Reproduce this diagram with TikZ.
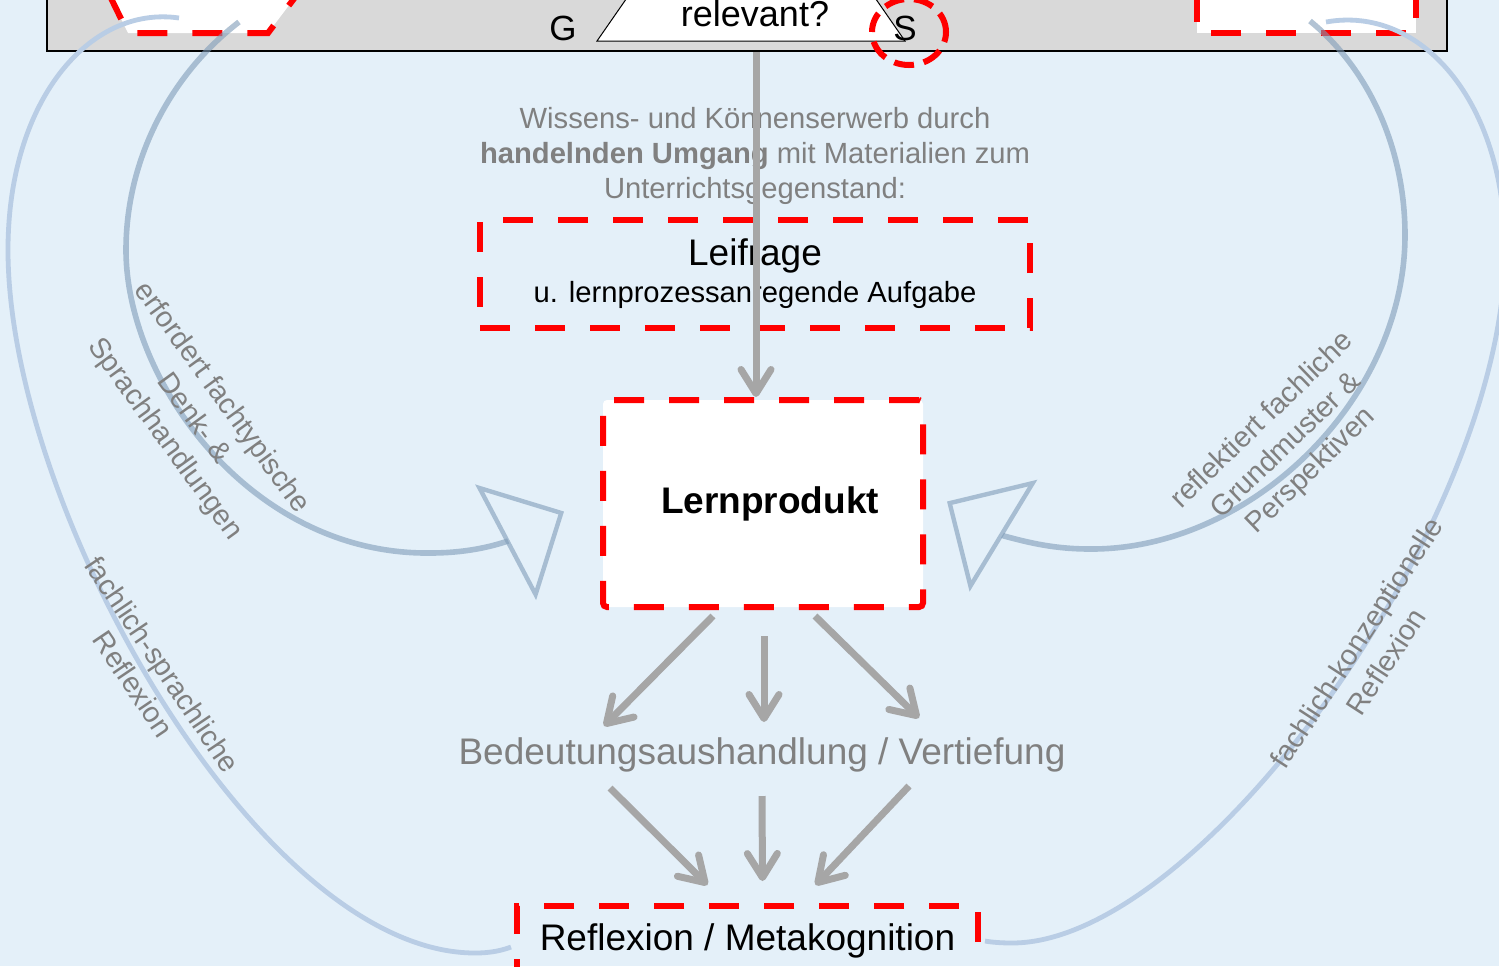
\documentclass[tikz,border=0pt]{standalone}
\usepackage{fontspec}
\setmainfont{Liberation Sans}
\usetikzlibrary{arrows.meta,calc,positioning}
\definecolor{paneblue}{HTML}{E4F0F9}
\definecolor{bargray}{HTML}{D9D9D9}
\definecolor{flowgray}{HTML}{A6A6A6}
\definecolor{notegray}{HTML}{808080}
\definecolor{loopblue}{HTML}{B9CDE5}
\definecolor{loopdark}{HTML}{7F9CB8}

\begin{document}
\begin{tikzpicture}[
    x=0.5pt, y=-0.5pt,
    redbox/.style={draw=red, line width=3pt, dash pattern=on 15pt off 12.5pt},
    flow/.style={draw=flowgray, line width=3.5pt, -{Straight Barb[length=12pt, width=15pt, round]}},
    inloop/.style={draw=loopdark, draw opacity=0.6, line width=2.8pt,
      -{Triangle[open, length=33pt, width=65pt, line width=2.2pt]}},
    outloop/.style={draw=loopblue, line width=2.4pt},
    midtext/.style={text=notegray, align=center},
    sidelbl/.style={text=notegray, align=center, font=\fontsize{14.4}{17.5}\selectfont},
  ]
  \useasboundingbox (0,0) rectangle (1499,966);
  \clip (0,0) rectangle (1499,966);
  \fill[paneblue] (0,0) rectangle (1499,966);

  % ---- top bar: G -- relevant? -- S
  \draw[fill=bargray, line width=0.75pt] (47,-10) rectangle (1447,51);
  \draw[redbox, fill=white] (108,-8) -- (128,33) -- (268,33) -- (299,-8);
  \draw[redbox, fill=white] (1197,-8) -- (1197,33) -- (1416,33) -- (1416,-8);
  \draw[fill=white, line width=0.5pt] (597,41) -- (631,-8) -- (871,-8) -- (905,41) -- cycle;
  \node[font=\fontsize{18}{20}\selectfont] (relq) at (755,14) {relevant?};
  \node[font=\fontsize{17.5}{20}\selectfont] (gnode) at (563,28) {G};
  \node[font=\fontsize{17.5}{20}\selectfont] (snode) at (905,28) {S};
  \draw[redbox, dash pattern=on 10pt off 5pt] ($(snode)+(4,4)$) ellipse [x radius=18.5pt, y radius=16.5pt];
  \coordinate (qfoot) at (756,52);

  % ---- middle column
  \node[midtext, font=\fontsize{14.6}{17.5}\selectfont] (wissen) at (755,156)
    {Wissens- und Könnenserwerb durch\\\textbf{handelnden Umgang} mit Materialien zum\\Unterrichtsgegenstand:};
  \node[redbox, minimum width=275pt, minimum height=54pt, align=center,
    font=\fontsize{14.6}{17.5}\selectfont] (leifrage) at (755,274)
    {{\fontsize{18.5}{20}\selectfont Leifrage}\\[1pt]u. lernprozessanregende Aufgabe};
  \node[redbox, fill=white, minimum width=160pt, minimum height=103.5pt, rounded corners=2pt,
    font=\bfseries\fontsize{18.5}{22}\selectfont] (lern) at (763,503.5) {\hspace*{7pt}Lernprodukt};
  \node[midtext, font=\fontsize{18.5}{22}\selectfont] (bed) at (762,755) {Bedeutungsaushandlung / Vertiefung};
  \node[redbox, minimum width=230.5pt, minimum height=35pt,
    font=\fontsize{18.5}{22}\selectfont] (refl) at (747.5,941) {Reflexion / Metakognition};

  % ---- loops from the top back to the middle
  \coordinate (fromL1) at (239,22);
  \coordinate (fromL2) at (179,18);
  \coordinate (fromR1) at (1310,21);
  \coordinate (fromR2) at (1326,22);
  \coordinate (tipL) at ($(lern.west)+(-36,8)$);
  \coordinate (tipR) at ($(lern.east)+(21,-2)$);
  \coordinate (toL) at ($(refl.west)+(-3,6)$);
  \coordinate (toR) at ($(refl.east)+(4,0)$);

  \draw[outloop] (fromL2) .. controls (90,5) and (8,100) .. (8,250)
    .. controls (8,510) and (260,953) .. (475,953)
    .. controls (492,953) and (503,950) .. (toL);
  \draw[outloop] (fromR2) .. controls (1420,5) and (1505,100) .. (1505,250)
    .. controls (1505,520) and (1200,943) .. (1012,943)
    .. controls (1000,943) and (990,942) .. (toR);
  \draw[inloop] (fromL1) .. controls (170,75) and (126,160) .. (126,250)
    .. controls (126,380) and (250,555) .. (430,553)
    .. controls (465,553) and (490,547) .. (508,541) -- (tipL);
  \draw[inloop] (fromR1) .. controls (1370,70) and (1405,150) .. (1405,235)
    .. controls (1405,400) and (1250,550) .. (1090,549)
    .. controls (1055,549) and (1030,543) .. (1004,536) -- (tipR);

  \node[sidelbl, rotate=-54] (lblDenk) at (193,419) {erfordert fachtypische\\Denk- \&\\Sprachhandlungen};
  \node[sidelbl, rotate=-56] (lblSprach) at (148,674) {fachlich-sprachliche\\Reflexion};
  \node[sidelbl, rotate=44] (lblMuster) at (1287,446) {reflektiert fachliche\\Grundmuster \&\\Perspektiven};
  \node[sidelbl, rotate=57] (lblKonz) at (1371,652) {fachlich-konzeptionelle\\Reflexion};

  % ---- gray flow arrows
  \draw[flow] (qfoot) -- (qfoot |- lern.north);
  \draw[flow] ($(lern.south)+(-50,6)$) -- ($(bed)+(-158,-29)$);
  \draw[flow] ($(lern.south)+(1,26)$) -- ($(bed)+(2,-33)$);
  \draw[flow] ($(lern.south)+(52,6)$) -- ($(bed)+(157,-37)$);
  \draw[flow] ($(bed)+(-152,33)$) -- ($(refl.north)+(-40,-18)$);
  \draw[flow] ($(bed)+(0,41)$) -- ($(refl.north)+(15,-22)$);
  \draw[flow] ($(bed)+(147,31)$) -- ($(refl.north)+(68,-18)$);
\end{tikzpicture}
\end{document}
